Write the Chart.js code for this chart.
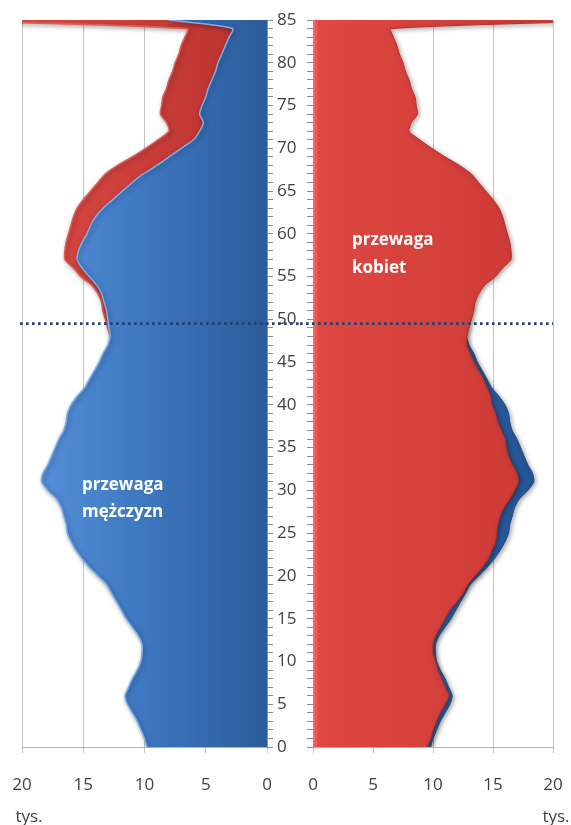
<!DOCTYPE html>
<html>
<head>
<meta charset="utf-8">
<script src="https://cdn.jsdelivr.net/npm/chart.js@4.4.0/dist/chart.umd.min.js"></script>
<style>
  html, body { margin: 0; padding: 0; background: #fff; }
  #wrap { position: relative; width: 571px; height: 825px; overflow: hidden; }
  #men { position: absolute; left: 0; top: 0; }
  #women { position: absolute; left: 300px; top: 0; }
</style>
</head>
<body>
<div id="wrap">
  <canvas id="men" width="300" height="825"></canvas>
  <canvas id="women" width="271" height="825"></canvas>
</div>
<script>
// ages 0..85 (85 = 85 i więcej)
const ages = [];
for (let a = 0; a <= 85; a++) ages.push(a);

// ludność w tys.
const men = [
  9.8, 10.0, 10.3, 10.6, 11.0, 11.4, 11.6, 11.3, 11.0, 10.6,
  10.3, 10.2, 10.2, 10.5, 11.0, 11.5, 11.9, 12.3, 12.7, 13.1,
  13.8, 14.5, 15.1, 15.6, 16.0, 16.3, 16.4, 16.6, 16.8, 17.2,
  17.9, 18.4, 18.3, 17.9, 17.6, 17.3, 17.0, 16.6, 16.4, 16.3,
  16.0, 15.5, 14.9, 14.5, 14.1, 13.7, 13.4, 13.0, 12.8, 12.9,
  13.0, 13.1, 13.3, 13.5, 13.9, 14.5, 15.1, 15.5, 15.4, 15.1,
  14.7, 14.4, 14.0, 13.4, 12.6, 11.8, 11.0, 10.1, 9.0, 8.0,
  7.0, 6.0, 5.5, 5.2, 5.5, 5.3, 5.0, 4.8, 4.5, 4.2,
  4.0, 3.7, 3.4, 3.1, 2.8, 8.0
];
const women = [
  9.5, 9.8, 10.0, 10.3, 10.6, 11.0, 11.3, 11.0, 10.7, 10.4,
  10.2, 10.0, 10.0, 10.2, 10.6, 11.0, 11.4, 12.0, 12.5, 12.9,
  13.5, 14.1, 14.6, 14.9, 15.2, 15.3, 15.4, 15.6, 15.9, 16.4,
  16.8, 17.1, 17.0, 16.6, 16.3, 16.1, 16.0, 15.7, 15.4, 15.2,
  14.9, 14.8, 14.5, 14.2, 13.8, 13.4, 13.1, 12.8, 12.8, 13.0,
  13.2, 13.4, 13.5, 13.8, 14.3, 15.2, 15.8, 16.5, 16.5, 16.4,
  16.2, 16.0, 15.8, 15.5, 15.0, 14.4, 13.8, 13.2, 12.2, 11.0,
  9.9, 8.9, 8.0, 8.2, 8.7, 8.6, 8.5, 8.2, 8.0, 7.7,
  7.5, 7.2, 7.0, 6.7, 6.5, 28.0
];

const xTicks = [0, 5, 10, 15, 20];
const unitLabel = 'tys.';
const medianAge = 49.5;

const font = "'Open Sans', 'Noto Sans', sans-serif";
const textColor = '#404040';

function toPoints(vals) {
  return ages.map((a, i) => ({ x: vals[i], y: a }));
}

function hGrad(stops) {
  return function (context) {
    const chart = context.chart;
    const area = chart.chartArea;
    if (!area) return null;
    const g = chart.ctx.createLinearGradient(area.left, 0, area.right, 0);
    stops.forEach(s => g.addColorStop(s[0], s[1]));
    return g;
  };
}

// cien pod polami
const shadowPlugin = {
  id: 'shadow',
  beforeDatasetsDraw(chart) {
    const ctx = chart.ctx;
    ctx.save();
    ctx.shadowColor = 'rgba(0,0,0,0.35)';
    ctx.shadowBlur = 5;
    ctx.shadowOffsetX = 1.5;
    ctx.shadowOffsetY = 1.5;
  },
  afterDatasetsDraw(chart) {
    chart.ctx.restore();
  }
};

// linia kropkowana (mediana wieku), napisy, jednostka
function overlayPlugin(opts) {
  return {
    id: 'overlay',
    afterDraw(chart) {
      const ctx = chart.ctx;
      const ys = chart.scales.y, xs = chart.scales.x;
      const yy = ys.getPixelForValue(medianAge);
      ctx.save();
      ctx.strokeStyle = '#24406e';
      ctx.lineWidth = 2.6;
      ctx.setLineDash([2.6, 3.4]);
      ctx.beginPath();
      ctx.moveTo(opts.lineFrom(chart), yy);
      ctx.lineTo(opts.lineTo(chart), yy);
      ctx.stroke();
      ctx.setLineDash([]);

      ctx.fillStyle = '#ffffff';
      ctx.font = 'bold 17px ' + font;
      ctx.textBaseline = 'middle';
      ctx.textAlign = 'left';
      opts.notes.forEach(n => {
        ctx.fillText(n.text, xs.getPixelForValue(n.x), ys.getPixelForValue(n.y));
      });

      ctx.fillStyle = textColor;
      ctx.font = '17px ' + font;
      ctx.textAlign = 'center';
      ctx.fillText(unitLabel, xs.getPixelForValue(20) + opts.unitShift, 817);
      ctx.restore();
    }
  };
}

function baseOptions(side) {
  return {
    indexAxis: 'y',
    responsive: false,
    animation: false,
    layout: side === 'left'
      ? { padding: { left: 22, top: 20, right: 0, bottom: 0 } }
      : { padding: { left: 0, top: 20, right: 18, bottom: 0 } },
    plugins: { legend: { display: false }, tooltip: { enabled: false } },
    elements: { point: { radius: 0 }, line: { tension: 0.25 } },
    scales: {
      x: {
        type: 'linear',
        reverse: side === 'left',
        min: 0,
        max: 20,
        afterBuildTicks: s => { s.ticks = xTicks.map(v => ({ value: v })); },
        afterFit: s => { s.height = 78; },
        ticks: { color: textColor, font: { family: font, size: 17, lineHeight: '64px' }, padding: 0 },
        grid: { color: '#c4c4c4', tickLength: 6, lineWidth: 1 },
        border: { color: '#b0b0b0' }
      },
      y: {
        type: 'linear',
        position: side === 'left' ? 'right' : 'left',
        min: 0,
        max: 85,
        afterBuildTicks: s => { s.ticks = ages.map(v => ({ value: v })); },
        afterFit: s => { s.width = side === 'left' ? 33 : 13; },
        ticks: {
          autoSkip: false,
          color: textColor,
          font: { family: font, size: 17 },
          padding: 4,
          callback: v => (side === 'left' && v % 5 === 0) ? String(v) : ''
        },
        grid: { drawOnChartArea: false, tickLength: 6, color: '#8c8c8c' },
        border: { color: '#8c8c8c' }
      }
    }
  };
}

new Chart(document.getElementById('men'), {
  type: 'line',
  data: {
    datasets: [
      {
        label: 'Mężczyźni',
        data: toPoints(men),
        fill: 'origin',
        backgroundColor: hGrad([[0, '#5893da'], [0.5, '#3d77c0'], [1, '#2b5b9a']]),
        borderColor: '#7eaeea',
        borderWidth: 1.5,
        order: 0
      },
      {
        label: 'Kobiety',
        data: toPoints(women),
        fill: 'origin',
        backgroundColor: hGrad([[0, '#dc4a44'], [1, '#b7302c']]),
        borderColor: '#e25a53',
        borderWidth: 1.5,
        order: 1
      }
    ]
  },
  options: baseOptions('left'),
  plugins: [shadowPlugin, overlayPlugin({
    lineFrom: c => 20,
    lineTo: c => c.width,
    notes: [
      { text: 'przewaga', x: 15.1, y: 30.6 },
      { text: 'mężczyzn', x: 15.1, y: 27.4 }
    ],
    unitShift: 7
  })]
});

new Chart(document.getElementById('women'), {
  type: 'line',
  data: {
    datasets: [
      {
        label: 'Kobiety',
        data: toPoints(women),
        fill: 'origin',
        backgroundColor: hGrad([[0, '#f56d64'], [0.025, '#de4742'], [1, '#cb3934']]),
        borderColor: '#b5302c',
        borderWidth: 1,
        order: 0
      },
      {
        label: 'Mężczyźni',
        data: toPoints(men),
        fill: 'origin',
        backgroundColor: hGrad([[0, '#3b74bd'], [1, '#23528f']]),
        borderColor: '#1f4a82',
        borderWidth: 1,
        order: 1
      }
    ]
  },
  options: baseOptions('right'),
  plugins: [shadowPlugin, overlayPlugin({
    lineFrom: c => 0,
    lineTo: c => c.chartArea.right,
    notes: [
      { text: 'przewaga', x: 3.25, y: 59.3 },
      { text: 'kobiet', x: 3.25, y: 56.0 }
    ],
    unitShift: 3
  })]
});
</script>
</body>
</html>
